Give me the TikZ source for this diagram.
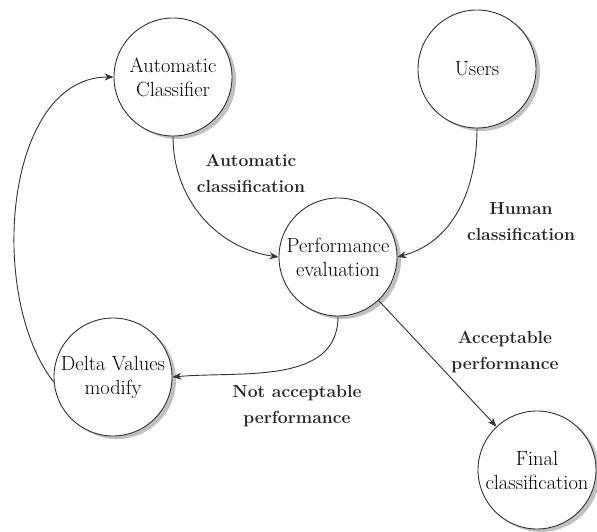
\documentclass[tikz,border=0pt]{standalone}
\usepackage{fontspec}
\usetikzlibrary{arrows.meta,shadows}
\begin{document}
\begin{tikzpicture}[x=1pt,y=1pt,
  state/.style={circle,draw=black!80,line width=0.9pt,fill=white,
    minimum size=118pt,inner sep=0pt,align=center,
    font=\rmfamily\fontsize{20.5}{24}\selectfont,
    drop shadow={shadow xshift=4pt,shadow yshift=-3pt,fill=black!45,opacity=0.55}},
  flow/.style={draw=black!80,line width=0.9pt,-{Stealth[length=9pt,width=7pt]}},
  flowlabel/.style={align=center,font=\rmfamily\bfseries\fontsize{17.5}{26}\selectfont,text=black!85}]
\useasboundingbox (0,0) rectangle (597,531);

% states
\node[state] (ac) at (173,454) {Automatic\\Classifier};
\node[state] (us) at (477,462) {Users};
\node[state] (pe) at (338,274) {Performance\\evaluation};
\node[state] (dv) at (113,154) {Delta Values\\modify};
\node[state] (fc) at (537,61)  {Final\\classification};

% transitions
\draw[flow] (ac.south) to[out=-90,in=172] (pe.west);
\draw[flow] (us.south) to[out=-90,in=15] (pe.east);
\draw[flow] (pe.south) to[out=-90,in=5] (dv.east);
\draw[flow] (dv.185) to[out=128,in=180,looseness=0.9] (ac.west);
\draw[flow] (pe) -- (fc);

% transition labels
\node[flowlabel] (l1) at (251,358) {Automatic\\classification};
\node[flowlabel] (l2) at (521,309) {Human\\classification};
\node[flowlabel] (l3) at (297,125) {Not acceptable\\performance};
\node[flowlabel] (l4) at (505,179) {Acceptable\\performance};
\end{tikzpicture}
\end{document}
